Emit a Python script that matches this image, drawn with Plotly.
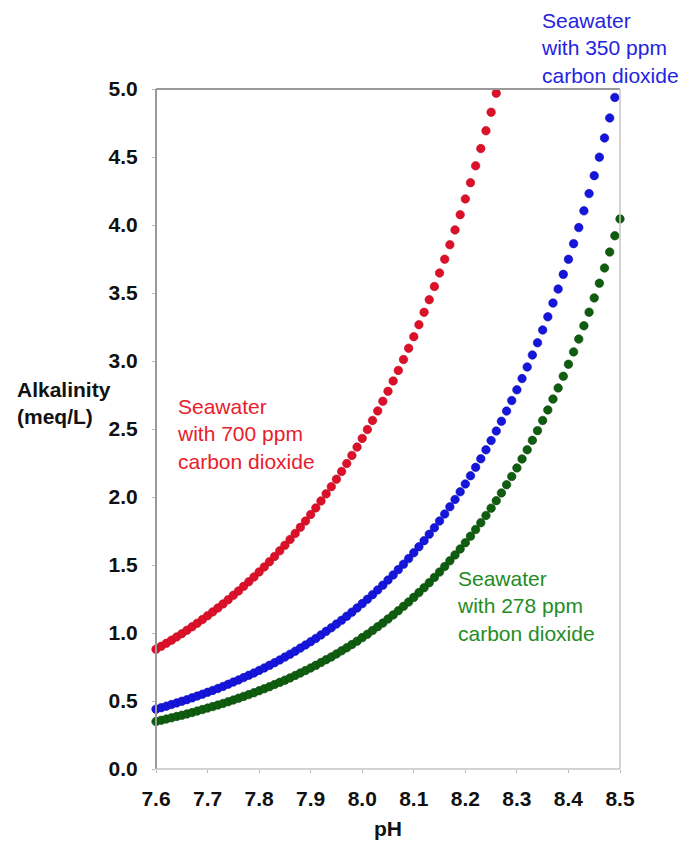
import plotly.graph_objects as go

ph = [7.60, 7.61, 7.62, 7.63, 7.64, 7.65, 7.66, 7.67, 7.68, 7.69,
      7.70, 7.71, 7.72, 7.73, 7.74, 7.75, 7.76, 7.77, 7.78, 7.79,
      7.80, 7.81, 7.82, 7.83, 7.84, 7.85, 7.86, 7.87, 7.88, 7.89,
      7.90, 7.91, 7.92, 7.93, 7.94, 7.95, 7.96, 7.97, 7.98, 7.99,
      8.00, 8.01, 8.02, 8.03, 8.04, 8.05, 8.06, 8.07, 8.08, 8.09,
      8.10, 8.11, 8.12, 8.13, 8.14, 8.15, 8.16, 8.17, 8.18, 8.19,
      8.20, 8.21, 8.22, 8.23, 8.24, 8.25, 8.26, 8.27, 8.28, 8.29,
      8.30, 8.31, 8.32, 8.33, 8.34, 8.35, 8.36, 8.37, 8.38, 8.39,
      8.40, 8.41, 8.42, 8.43, 8.44, 8.45, 8.46, 8.47, 8.48, 8.49,
      8.50]

alk_700 = [0.880, 0.902, 0.924, 0.947, 0.971, 0.995, 1.020, 1.046, 1.072, 1.099,
           1.127, 1.155, 1.184, 1.214, 1.245, 1.277, 1.309, 1.343, 1.377, 1.412,
           1.449, 1.486, 1.524, 1.563, 1.604, 1.645, 1.688, 1.732, 1.777, 1.823,
           1.871, 1.920, 1.971, 2.023, 2.076, 2.131, 2.188, 2.246, 2.306, 2.367,
           2.431, 2.496, 2.563, 2.633, 2.704, 2.777, 2.853, 2.931, 3.011, 3.094,
           3.179, 3.267, 3.358, 3.451, 3.548, 3.647, 3.749, 3.855, 3.964, 4.076,
           4.192, 4.311, 4.435, 4.562, 4.693, 4.829, 4.969]

alk_350 = [0.440, 0.451, 0.462, 0.474, 0.486, 0.498, 0.510, 0.523, 0.536, 0.550,
           0.564, 0.578, 0.592, 0.607, 0.623, 0.639, 0.655, 0.672, 0.689, 0.706,
           0.725, 0.743, 0.762, 0.782, 0.802, 0.823, 0.844, 0.866, 0.889, 0.912,
           0.936, 0.960, 0.986, 1.012, 1.038, 1.066, 1.094, 1.123, 1.153, 1.184,
           1.216, 1.248, 1.282, 1.317, 1.352, 1.389, 1.427, 1.466, 1.506, 1.547,
           1.590, 1.634, 1.679, 1.726, 1.774, 1.824, 1.875, 1.928, 1.982, 2.038,
           2.096, 2.156, 2.218, 2.281, 2.347, 2.415, 2.485, 2.557, 2.632, 2.709,
           2.788, 2.871, 2.956, 3.044, 3.134, 3.228, 3.325, 3.426, 3.529, 3.637,
           3.748, 3.863, 3.981, 4.104, 4.231, 4.363, 4.499, 4.640, 4.787, 4.938]

alk_278 = [0.349, 0.358, 0.367, 0.376, 0.386, 0.395, 0.405, 0.415, 0.426, 0.437,
           0.448, 0.459, 0.470, 0.482, 0.495, 0.507, 0.520, 0.534, 0.547, 0.561,
           0.576, 0.590, 0.605, 0.621, 0.637, 0.653, 0.670, 0.688, 0.706, 0.724,
           0.743, 0.762, 0.783, 0.804, 0.824, 0.846, 0.869, 0.892, 0.915, 0.940,
           0.966, 0.991, 1.018, 1.046, 1.073, 1.103, 1.133, 1.164, 1.196, 1.228,
           1.262, 1.297, 1.333, 1.370, 1.409, 1.448, 1.489, 1.531, 1.574, 1.618,
           1.664, 1.712, 1.761, 1.811, 1.864, 1.918, 1.973, 2.030, 2.090, 2.151,
           2.214, 2.280, 2.347, 2.417, 2.488, 2.563, 2.640, 2.720, 2.802, 2.888,
           2.976, 3.067, 3.161, 3.259, 3.359, 3.464, 3.572, 3.684, 3.801, 3.921,
           4.045]

x_ticks = [7.6, 7.7, 7.8, 7.9, 8.0, 8.1, 8.2, 8.3, 8.4, 8.5]
y_ticks = [0.0, 0.5, 1.0, 1.5, 2.0, 2.5, 3.0, 3.5, 4.0, 4.5, 5.0]

series = [
    ("Seawater with 700 ppm carbon dioxide", alk_700, "#dc1028", "#bc0a20"),
    ("Seawater with 350 ppm carbon dioxide", alk_350, "#1515dc", "#0c0cb4"),
    ("Seawater with 278 ppm carbon dioxide", alk_278, "#0f5e0f", "#0a440a"),
]

fig = go.Figure()
for name, vals, col, edge in series:
    fig.add_trace(go.Scatter(
        x=ph[:len(vals)], y=vals, mode="markers", name=name,
        marker=dict(size=8.5, color=col, line=dict(width=0.6, color=edge)),
        cliponaxis=False, showlegend=False))

FONT = "Arial, Liberation Sans, sans-serif"
tickfont = dict(family=FONT, size=21, color="#111111", weight=700)

# the page body adds an 8 px margin, so the figure is sized to fit inside it
fig.update_layout(
    width=676, height=833,
    margin=dict(l=148, r=64, t=81, b=72, autoexpand=False),
    paper_bgcolor="white", plot_bgcolor="white",
    xaxis=dict(range=[7.6, 8.5], tickvals=x_ticks, tickformat=".1f",
               showgrid=False, zeroline=False, showline=False,
               ticks="outside", ticklen=3, tickcolor="#bbbbbb",
               tickfont=tickfont, ticklabelstandoff=8),
    yaxis=dict(range=[0, 5], tickvals=y_ticks, tickformat=".1f",
               showgrid=False, zeroline=False, showline=False,
               ticks="outside", ticklen=3, tickcolor="#bbbbbb",
               tickfont=tickfont, ticklabelstandoff=10),
    shapes=[
        dict(type="line", xref="paper", yref="paper", x0=0, x1=0, y0=0, y1=1,
             line=dict(color="#9a9a9a", width=2)),
        dict(type="line", xref="paper", yref="paper", x0=0, x1=1, y0=1, y1=1,
             line=dict(color="#9a9a9a", width=2)),
        dict(type="line", xref="paper", yref="paper", x0=0, x1=1, y0=0, y1=0,
             line=dict(color="#c4c4c4", width=1.5)),
        dict(type="line", xref="paper", yref="paper", x0=1, x1=1, y0=0, y1=1,
             line=dict(color="#c4c4c4", width=1.5)),
    ],
    annotations=[
        dict(text="pH", xref="paper", yref="paper", x=0.5, y=-0.087,
             xanchor="center", yanchor="middle", showarrow=False,
             font=dict(family=FONT, size=21, color="#111111", weight=700)),
        dict(text="Alkalinity<br>(meq/L)", xref="paper", yref="y", x=-0.304, y=2.69,
             xanchor="left", yanchor="middle", align="left", showarrow=False,
             font=dict(family=FONT, size=21, color="#111111", weight=700)),
        dict(text="Seawater<br>with 700 ppm<br>carbon dioxide", xref="x", yref="y",
             x=7.636, y=2.46, xanchor="left", yanchor="middle", align="left",
             showarrow=False, font=dict(family=FONT, size=21, color="#e8202c")),
        dict(text="Seawater<br>with 350 ppm<br>carbon dioxide", xref="paper", yref="paper",
             x=0.826, y=1.060, xanchor="left", yanchor="middle", align="left",
             showarrow=False, font=dict(family=FONT, size=21, color="#2424e0")),
        dict(text="Seawater<br>with 278 ppm<br>carbon dioxide", xref="x", yref="y",
             x=8.180, y=1.20, xanchor="left", yanchor="middle", align="left",
             showarrow=False, font=dict(family=FONT, size=21, color="#248c24")),
    ],
)

fig.write_html("out.html")
